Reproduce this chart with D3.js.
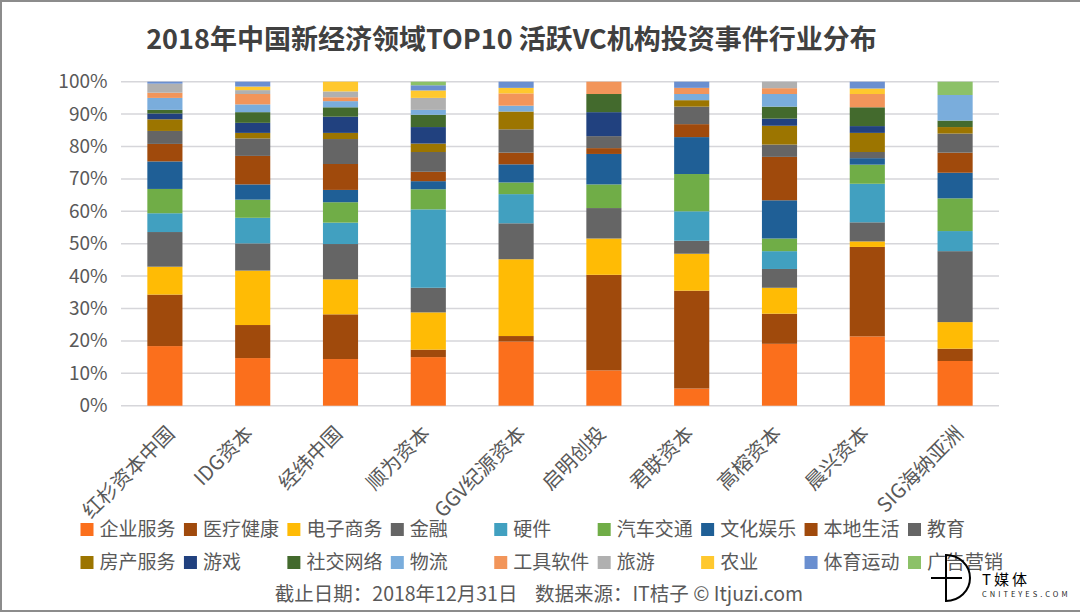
<!DOCTYPE html>
<html>
<head>
<meta charset="utf-8">
<script src="https://cdn.jsdelivr.net/npm/d3@7"></script>
<style>
  html, body { margin: 0; padding: 0; background: #fff; }
  svg { display: block; }
  text { font-family: "Noto Sans CJK SC", "Noto Sans", sans-serif; }
  .axis path, .axis line { display: none; }
</style>
</head>
<body>
<script>
const title = '2018年中国新经济领域TOP10 活跃VC机构投资事件行业分布';
const footer = '截止日期：2018年12月31日    数据来源：IT桔子 © Itjuzi.com';

const investors = ['红杉资本中国', 'IDG资本', '经纬中国', '顺为资本', 'GGV纪源资本', '启明创投', '君联资本', '高榕资本', '晨兴资本', 'SIG海纳亚洲'];
const industries = ['企业服务', '医疗健康', '电子商务', '金融', '硬件', '汽车交通', '文化娱乐', '本地生活', '教育', '房产服务', '游戏', '社交网络', '物流', '工具软件', '旅游', '农业', '体育运动', '广告营销'];
const colors = ['#fb6f1c', '#a04a0c', '#ffbb05', '#656565', '#41a0c0', '#70ad47', '#1f5f96', '#a04a0c', '#656565', '#9c7500', '#21417f', '#436a2d', '#7aaddc', '#f2955a', '#b0b0b0', '#ffc82e', '#6a8fd0', '#8cc168'];

// one row per investor, same order as industries
const hongshan = [18.4, 15.9, 8.6, 10.7, 5.8, 7.5, 8.5, 5.4, 4.0, 3.6, 1.8, 1.1, 3.7, 1.6, 2.8, 0, 0.6, 0];
const idg = [14.7, 10.2, 16.8, 8.4, 7.9, 5.6, 4.7, 8.8, 5.4, 1.7, 3.1, 3.3, 2.4, 3.2, 1.2, 1.1, 1.5, 0];
const jingwei = [14.4, 13.8, 10.8, 10.9, 6.6, 6.3, 3.8, 8.0, 7.7, 1.9, 5.0, 2.9, 1.9, 1.2, 1.8, 3.0, 0, 0];
const shunwei = [15.0, 2.3, 11.5, 7.6, 24.2, 6.2, 2.5, 2.9, 6.1, 2.6, 5.1, 3.8, 1.5, 0, 3.7, 2.3, 1.6, 1.1];
const ggv = [19.8, 1.7, 23.7, 11.1, 9.0, 3.6, 5.6, 3.6, 7.2, 5.5, 0, 0, 1.8, 3.8, 0, 1.7, 1.9, 0];
const qiming = [10.9, 29.5, 11.2, 9.4, 0, 7.3, 9.4, 1.8, 3.7, 0, 7.4, 5.6, 0, 3.8, 0, 0, 0, 0];
const junlian = [5.3, 30.2, 11.4, 4.0, 9.1, 11.5, 11.4, 4.0, 5.4, 2.0, 0, 0, 1.9, 1.9, 0, 0, 1.9, 0];
const gaorong = [19.1, 9.3, 8.0, 5.8, 5.5, 3.9, 11.8, 13.4, 3.8, 5.8, 2.2, 3.7, 3.9, 1.8, 2.0, 0, 0, 0];
const chenxing = [21.4, 27.6, 1.7, 5.9, 11.9, 5.9, 2.0, 0, 1.9, 5.9, 2.1, 5.8, 0, 4.1, 0, 1.7, 2.1, 0];
const sig = [13.8, 3.8, 8.2, 21.9, 6.2, 10.1, 7.9, 6.2, 5.9, 2.0, 0, 2.0, 7.9, 0, 0, 0, 0, 4.1];
const rows = [hongshan, idg, jingwei, shunwei, ggv, qiming, junlian, gaorong, chenxing, sig];

const width = 1080, height = 612;
const margin = {top: 81.7, left: 121, right: 81, bottom: 206.3};

const svg = d3.select('body').append('svg')
  .attr('width', width)
  .attr('height', height);

// screenshot frame: top, left and bottom only
svg.append('path')
  .attr('d', `M${width} 1 H1 V${height - 1} H${width}`)
  .attr('fill', 'none')
  .attr('stroke', '#8c8c8c')
  .attr('stroke-width', 2);

svg.append('text')
  .attr('x', 511.5)
  .attr('y', 48.5)
  .attr('text-anchor', 'middle')
  .attr('font-size', 27)
  .attr('font-weight', 700)
  .attr('fill', '#404040')
  .text(title);

const x = d3.scaleBand()
  .domain(investors)
  .range([margin.left, width - margin.right])
  .paddingInner(0.6)
  .paddingOuter(0.3);

const y = d3.scaleLinear()
  .domain([0, 100])
  .range([height - margin.bottom, margin.top]);

// gridlines
svg.append('g')
  .selectAll('line')
  .data(y.ticks(10))
  .enter()
  .append('line')
  .attr('x1', margin.left)
  .attr('x2', width - margin.right)
  .attr('y1', d => y(d))
  .attr('y2', d => y(d))
  .attr('stroke', '#d6d6da')
  .attr('stroke-width', 1.5);

const table = investors.map((name, i) => {
  const row = {name: name};
  industries.forEach((key, j) => { row[key] = rows[i][j]; });
  return row;
});

const series = d3.stack()
  .keys(industries)
  .offset(d3.stackOffsetExpand)(table);

svg.append('g')
  .selectAll('g')
  .data(series)
  .enter()
  .append('g')
  .attr('fill', (d, i) => colors[i])
  .selectAll('rect')
  .data(d => d)
  .enter()
  .append('rect')
  .attr('x', d => x(d.data.name))
  .attr('width', x.bandwidth())
  .attr('y', d => y(d[1] * 100))
  .attr('height', d => y(d[0] * 100) - y(d[1] * 100));

svg.append('g')
  .attr('class', 'axis')
  .attr('transform', `translate(${margin.left - 10.5}, 0)`)
  .call(d3.axisLeft(y).ticks(10).tickFormat(d => d + '%').tickSize(0))
  .selectAll('text')
  .attr('font-size', 19)
  .attr('fill', '#595959');

// longer labels sit a little further right of their bar
svg.append('g')
  .attr('class', 'axis')
  .attr('transform', `translate(0, ${height - margin.bottom})`)
  .call(d3.axisBottom(x).tickSize(0))
  .selectAll('text')
  .attr('font-size', 20)
  .attr('fill', '#595959')
  .attr('text-anchor', 'end')
  .attr('dy', '0.35em')
  .attr('transform', function() {
    const shift = (this.getComputedTextLength() - 80) * 0.2;
    return `translate(${shift - 4}, 22) rotate(-45)`;
  });

// legend, two rows of nine
const legendX = d3.scalePoint()
  .domain(d3.range(9))
  .range([80.5, 908]);
const legendY = [529.5, 562.5];

const legend = svg.append('g')
  .selectAll('g')
  .data(industries)
  .enter()
  .append('g')
  .attr('transform', (d, i) => `translate(${legendX(i % 9)}, ${legendY[Math.floor(i / 9)]})`);

legend.append('rect')
  .attr('y', -6.5)
  .attr('width', 13)
  .attr('height', 13)
  .attr('fill', (d, i) => colors[i]);

legend.append('text')
  .attr('x', 19)
  .attr('dy', '0.35em')
  .attr('font-size', 19)
  .attr('fill', '#595959')
  .text(d => d);

svg.append('text')
  .attr('x', 539)
  .attr('y', 600.5)
  .attr('text-anchor', 'middle')
  .attr('font-size', 19.5)
  .attr('fill', '#595959')
  .style('white-space', 'pre')
  .text(footer);

// watermark
const mark = svg.append('g').attr('fill', 'none').attr('stroke', '#000').attr('stroke-width', 2);
mark.append('path').attr('d', 'M946 555 A 24 23 0 0 1 946 601 Z');
mark.append('line').attr('x1', 931).attr('x2', 962).attr('y1', 578).attr('y2', 578);
svg.append('text')
  .attr('x', 982)
  .attr('y', 585)
  .attr('font-size', 15)
  .attr('letter-spacing', 3)
  .attr('fill', '#000')
  .text('T媒体');
svg.append('text')
  .attr('x', 982)
  .attr('y', 597)
  .attr('font-size', 7.5)
  .attr('letter-spacing', 3)
  .attr('fill', '#222')
  .text('CNITEYES.COM');
</script>
</body>
</html>
